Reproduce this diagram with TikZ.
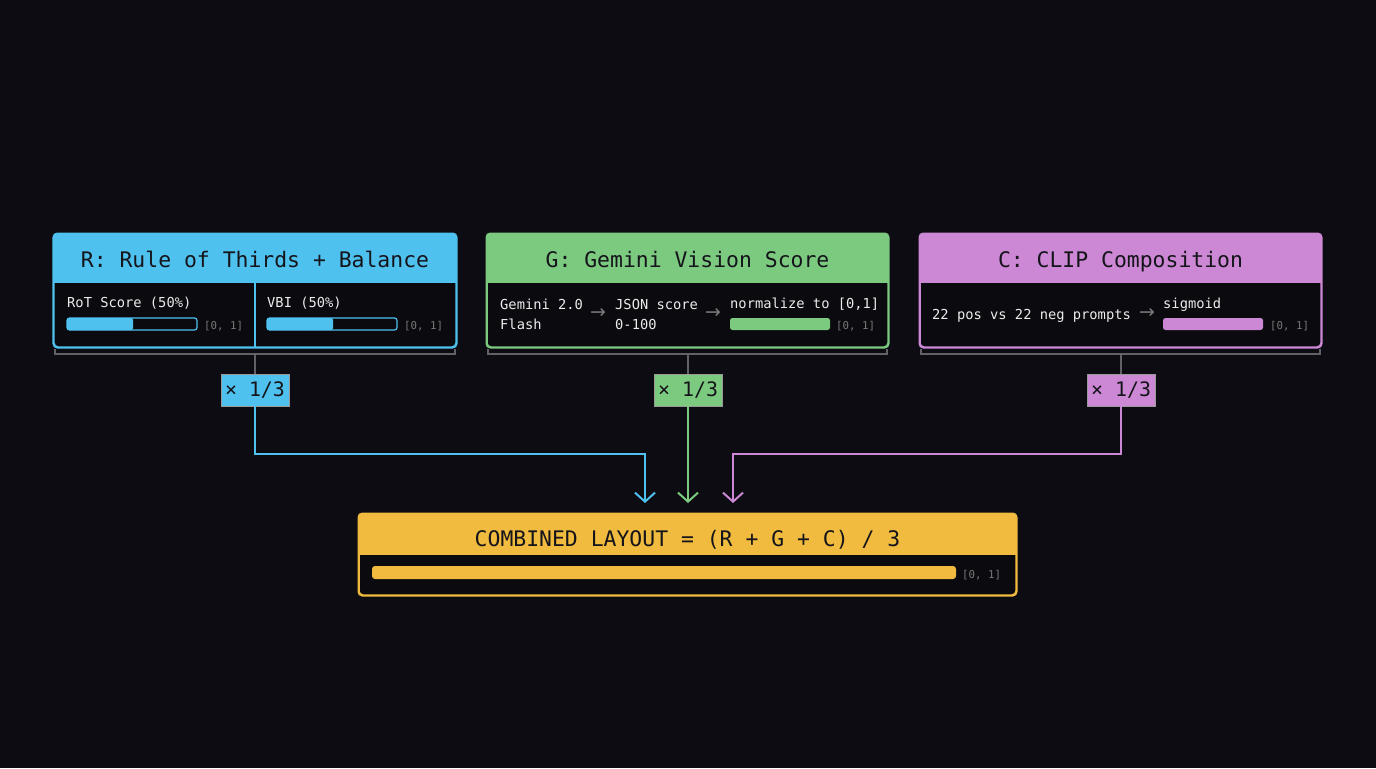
\documentclass[tikz,border=0pt]{standalone}
\usepackage{fontspec}
\setmainfont{DejaVu Sans Mono}
\newfontfamily\arrowfont{DejaVu Sans}
\usetikzlibrary{arrows.meta}
\definecolor{bg}{HTML}{0C0C12}
\definecolor{panelbg}{HTML}{0A0A0F}
\definecolor{cblue}{HTML}{4FC1EE}
\definecolor{cgreen}{HTML}{7CCA80}
\definecolor{cpurple}{HTML}{CC88D4}
\definecolor{cyellow}{HTML}{F0BB3E}
\definecolor{hdrtxt}{HTML}{14141A}
\definecolor{bodytxt}{HTML}{ECECEC}
\definecolor{dimtxt}{HTML}{7A7A7A}
\definecolor{brk}{HTML}{626266}
\tikzset{
  panel/.style={draw, line width=1.5bp, fill=panelbg, rounded corners=4bp, inner sep=0},
  hdr/.style={text=hdrtxt, font=\fontsize{21.5}{24}\selectfont, anchor=base, inner sep=0},
  body/.style={text=bodytxt, font=\fontsize{13.8}{16}\selectfont, anchor=base west, inner sep=0},
  dim/.style={text=dimtxt, font=\fontsize{10.8}{13}\selectfont, anchor=base west, inner sep=0},
  garrow/.style={text=dimtxt, font=\arrowfont\fontsize{19}{20}\selectfont, anchor=center, inner sep=0},
  badge/.style={minimum width=68bp, minimum height=32bp, inner sep=0, text=hdrtxt, font=\fontsize{20}{22}\selectfont, draw=black!40, line width=0.5bp},
  bracket/.style={draw=brk, line width=2bp},
  conn/.style={line width=2bp, -{Straight Barb[length=9bp,width=20bp,line width=2bp]}},
}
\begin{document}
\begin{tikzpicture}[x=1bp,y=-1bp]
\fill[bg] (0,0) rectangle (1376,768);
\useasboundingbox (0,0) rectangle (1376,768);

% ---------- R panel ----------
\node[panel, draw=cblue, minimum width=402bp, minimum height=113bp] (R) at (255,290.5) {};
\begin{scope}
\clip[rounded corners=4bp] (R.north west) rectangle (R.south east);
\fill[cblue] (R.north west) rectangle (456,283);
\end{scope}
\draw[cblue, line width=1.5bp, rounded corners=4bp] (R.north west) rectangle (R.south east);
\draw[cblue, line width=1.5bp] (255,283) -- (255,347);
\node[hdr] (Rt) at (255,267) {R: Rule of Thirds + Balance};
\node[body] (Rl1) at (67,307) {RoT Score (50\%)};
\fill[cblue, rounded corners=2bp] (67,318) rectangle (133,330);
\draw[cblue, line width=1.2bp, rounded corners=2.5bp] (67,318) rectangle (197,330);
\node[dim] (Rr1) at (204,329) {[0, 1]};
\node[body] (Rl2) at (267,307) {VBI (50\%)};
\fill[cblue, rounded corners=2bp] (267,318) rectangle (333,330);
\draw[cblue, line width=1.2bp, rounded corners=2.5bp] (267,318) rectangle (397,330);
\node[dim] (Rr2) at (404,329) {[0, 1]};

% ---------- G panel ----------
\node[panel, draw=cgreen, minimum width=401bp, minimum height=113bp] (G) at (687.5,290.5) {};
\begin{scope}
\clip[rounded corners=4bp] (G.north west) rectangle (G.south east);
\fill[cgreen] (G.north west) rectangle (888,283);
\end{scope}
\draw[cgreen, line width=1.5bp, rounded corners=4bp] (G.north west) rectangle (G.south east);
\node[hdr] (Gt) at (687.5,267) {G: Gemini Vision Score};
\node[body] (Ga1) at (500,309) {Gemini 2.0};
\node[body] (Ga2) at (500,329) {Flash};
\node[garrow] (Gx1) at (598,314) {→};
\node[body] (Gb1) at (615,309) {JSON score};
\node[body] (Gb2) at (615,329) {0-100};
\node[garrow] (Gx2) at (713,314) {→};
\node[body] (Gc1) at (730,308) {normalize to [0,1]};
\fill[cgreen, rounded corners=2.5bp] (730,318) rectangle (830,330);
\node[dim] (Gr) at (836,329) {[0, 1]};

% ---------- C panel ----------
\node[panel, draw=cpurple, minimum width=401bp, minimum height=113bp] (C) at (1120.5,290.5) {};
\begin{scope}
\clip[rounded corners=4bp] (C.north west) rectangle (C.south east);
\fill[cpurple] (C.north west) rectangle (1321,283);
\end{scope}
\draw[cpurple, line width=1.5bp, rounded corners=4bp] (C.north west) rectangle (C.south east);
\node[hdr] (Ct) at (1120.5,267) {C: CLIP Composition};
\node[body] (Ca) at (932,319) {22 pos vs 22 neg prompts};
\node[garrow] (Cx) at (1147,314) {→};
\node[body] (Cb) at (1163,308) {sigmoid};
\fill[cpurple, rounded corners=2.5bp] (1163,318) rectangle (1263,330);
\node[dim] (Cr) at (1270,329) {[0, 1]};

% ---------- brackets ----------
\coordinate (brR) at (255,354);
\coordinate (brG) at (688,354);
\coordinate (brC) at (1121,354);
\draw[bracket] (55,349) -- (55,354) -- (455,354) -- (455,349);
\draw[bracket] (488,349) -- (488,354) -- (887,354) -- (887,349);
\draw[bracket] (921,349) -- (921,354) -- (1320,354) -- (1320,349);

% ---------- badges ----------
\node[badge, fill=cblue] (bR) at (255,390) {× 1/3};
\node[badge, fill=cgreen] (bG) at (688,390) {× 1/3};
\node[badge, fill=cpurple] (bC) at (1121,390) {× 1/3};
\draw[bracket] (brR) -- (bR.north);
\draw[bracket] (brG) -- (bG.north);
\draw[bracket] (brC) -- (bC.north);

% ---------- combined ----------
\node[panel, draw=cyellow, minimum width=657bp, minimum height=81bp] (S) at (687.5,554.5) {};
\begin{scope}
\clip[rounded corners=4bp] (S.north west) rectangle (S.south east);
\fill[cyellow] (S.north west) rectangle (1016,555);
\end{scope}
\draw[cyellow, line width=1.5bp, rounded corners=4bp] (S.north west) rectangle (S.south east);
\node[hdr] (St) at (687.5,546) {COMBINED LAYOUT = (R + G + C) / 3};
\fill[cyellow, rounded corners=3bp] (372,566) rectangle (956,579);
\node[dim] (Sr) at (962,578) {[0, 1]};

% ---------- connectors ----------
\coordinate (aR) at (645,503);
\coordinate (aG) at (688,503);
\coordinate (aC) at (733,503);
\draw[conn, cblue] (bR.south) -- ++(0,48) -| (aR);
\draw[conn, cgreen] (bG.south) -- (aG);
\draw[conn, cpurple] (bC.south) -- ++(0,48) -| (aC);
\end{tikzpicture}
\end{document}
